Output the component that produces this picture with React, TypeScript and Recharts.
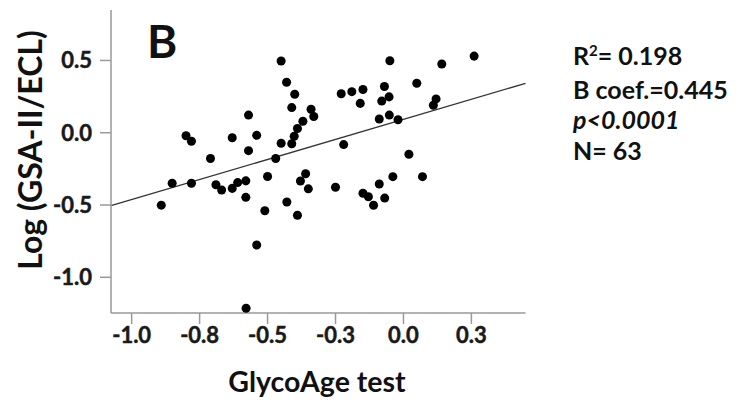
import { ReferenceLine, Scatter, ScatterChart, XAxis, YAxis } from 'recharts';

// GlycoAge test (x) vs Log (GSA-II/ECL) (y), N = 63
const glycoAge = [
  -0.45, -0.43, -0.4, -0.411, -0.34, -0.33, -0.57, -0.37, -0.39, -0.8,
  -0.78, -0.63, -0.54, -0.402, -0.57, -0.45, -0.411, -0.71, -0.47, -0.5,
  -0.36, -0.379, -0.35, -0.851, -0.78, -0.69, -0.669, -0.63, -0.61, -0.58,
  -0.05, 0.141, 0.26, 0.049, -0.229, -0.19, -0.149, -0.159, -0.07, -0.08,
  -0.053, 0.12, 0.11, -0.089, -0.052, -0.02, -0.22, 0.02, -0.25, -0.089,
  -0.039, 0.07, -0.149, -0.129, -0.11, -0.069, -0.58, -0.891, -0.51, -0.429,
  -0.39, -0.54, -0.579,
];
const logRatio = [
  0.496, 0.349, 0.266, 0.174, 0.162, 0.112, 0.122, 0.079, 0.029, -0.021,
  -0.059, -0.035, -0.018, -0.024, -0.124, -0.073, -0.076, -0.178, -0.178, -0.303,
  -0.284, -0.334, -0.388, -0.349, -0.349, -0.36, -0.396, -0.385, -0.345, -0.333,
  0.498, 0.475, 0.53, 0.342, 0.27, 0.284, 0.299, 0.203, 0.32, 0.219,
  0.248, 0.234, 0.19, 0.095, 0.122, 0.09, -0.082, -0.149, -0.377, -0.355,
  -0.304, -0.304, -0.419, -0.443, -0.502, -0.452, -0.447, -0.501, -0.54, -0.479,
  -0.571, -0.777, -1.214,
];

// regression line end points (at the edges of the x range)
const fitX = [-1.076, 0.449];
const fitY = [-0.505, 0.342];

const xTicks = [-1, -0.75, -0.5, -0.25, 0, 0.25];
const xTickLabels = ['-1.0', '-0.8', '-0.5', '-0.3', '0.0', '0.3'];
const yTicks = [-1, -0.5, 0, 0.5];
const yTickLabels = ['-1.0', '-0.5', '0.0', '0.5'];

const stats = ['= 0.198', 'B coef.=0.445', 'p<0.0001', 'N= 63'];

const points = glycoAge.map((x, i) => ({ x, y: logRatio[i] }));

const font = 'Lato, "Open Sans", sans-serif';
// a thin stroke makes the small labels as heavy as the original's
const tickText = {
  fontFamily: font,
  fontWeight: 700,
  fontSize: 22,
  fill: '#1a1a1a',
  stroke: '#1a1a1a',
  strokeWidth: 0.5,
};

const renderXTick = (props: any) => (
  <text key={props.index} x={props.x} y={props.y + 19} textAnchor="middle" style={tickText}>
    {xTickLabels[xTicks.indexOf(props.payload.value)]}
  </text>
);

const renderYTick = (props: any) => (
  <text key={props.index} x={props.x} y={props.y + 8} textAnchor="end" style={tickText}>
    {yTickLabels[yTicks.indexOf(props.payload.value)]}
  </text>
);

export default function App() {
  return (
    <div style={{ position: 'absolute', left: 0, top: 0, width: 748, height: 406, background: '#fff' }}>
      <ScatterChart width={748} height={406} margin={{ top: 10, right: 222.5, bottom: 63, left: 51 }}>
        <XAxis
          type="number"
          dataKey="x"
          domain={[fitX[0], fitX[1]]}
          ticks={xTicks}
          height={30}
          stroke="#999"
          strokeWidth={1.5}
          tickSize={11}
          tickMargin={0}
          tick={renderXTick}
          allowDataOverflow
        />
        <YAxis
          type="number"
          dataKey="y"
          domain={[-1.247, 0.849]}
          ticks={yTicks}
          width={60}
          stroke="#999"
          strokeWidth={1.5}
          tickSize={11}
          tickMargin={8}
          tick={renderYTick}
          allowDataOverflow
        />
        <ReferenceLine
          segment={[
            { x: fitX[0], y: fitY[0] },
            { x: fitX[1], y: fitY[1] },
          ]}
          stroke="#333"
          strokeWidth={1.3}
          ifOverflow="visible"
        />
        <Scatter data={points} fill="#000" shape="circle" isAnimationActive={false} />
      </ScatterChart>
      <svg
        width={748}
        height={406}
        style={{ position: 'absolute', left: 0, top: 0, pointerEvents: 'none' }}
        fontFamily={font}
        fontWeight={700}
        fill="#111"
      >
        <text x={147} y={58} fontSize={46}>B</text>
        <text x={317} y={392} fontSize={28.5} textAnchor="middle">GlycoAge test</text>
        <text x={42} y={150} fontSize={32} textAnchor="middle" transform="rotate(-90 42 150)">
          Log (GSA-II/ECL)
        </text>
        <text x={573} y={65} fontSize={25}>
          R<tspan fontSize={15} dy={-9}>2</tspan>
          <tspan dy={9}>{stats[0]}</tspan>
        </text>
        <text x={573} y={99} fontSize={25}>{stats[1]}</text>
        <text x={573} y={129} fontSize={25} fontStyle="italic">{stats[2]}</text>
        <text x={573} y={160} fontSize={25}>{stats[3]}</text>
      </svg>
    </div>
  );
}
